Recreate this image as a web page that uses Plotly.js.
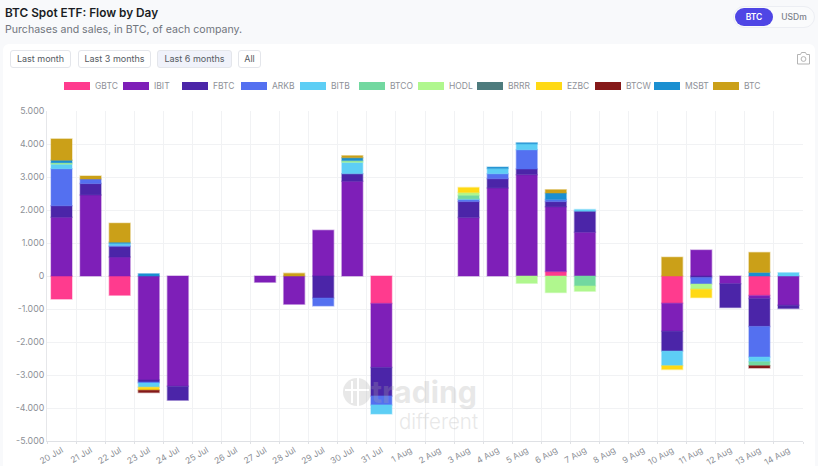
<!DOCTYPE html>
<html><head><meta charset="utf-8">
<script src="https://cdn.plot.ly/plotly-3.0.1.min.js"></script>
<style>
html,body{margin:0;padding:0;width:818px;height:466px;overflow:hidden;background:#f8f9fb;font-family:Inter,sans-serif}
#card{position:absolute;left:3px;top:44px;width:812px;height:430px;background:#fff;border-radius:6px}
#chart{position:absolute;left:0;top:0;width:818px;height:466px}
#t1{position:absolute;left:5px;top:5px;font-size:11.8px;font-weight:600;color:#1a1d24;line-height:16px;white-space:nowrap}
#t2{position:absolute;left:5px;top:22px;font-size:10.6px;color:#71757d;line-height:16px;white-space:nowrap}
#tog{position:absolute;left:733px;top:6px;width:82px;height:22px;border:1px solid #eceef3;border-radius:12px;box-sizing:border-box;background:#fafbfc;font-size:8.5px;font-weight:600}
#tog span{position:absolute;top:1px;height:18px;line-height:18px;text-align:center;border-radius:10px}
.b{position:absolute;top:50px;height:18px;line-height:16px;box-sizing:border-box;border:1px solid #e4e6eb;border-radius:3px;font-size:9px;color:#555a62;text-align:center;background:#fff;white-space:nowrap}
#wm{position:absolute;left:0;top:0;width:818px;height:466px;pointer-events:none;z-index:5}
</style></head><body>
<div id="card"></div>
<div id="chart"></div>
<div id="t1">BTC Spot ETF: Flow by Day</div>
<div id="t2">Purchases and sales, in BTC, of each company.</div>
<div id="tog"><span style="left:1px;width:38px;background:#4f46e5;color:#fff">BTC</span><span style="left:42px;width:36px;color:#7c818a;font-weight:500">USDm</span></div>
<div class="b" style="left:10px;width:61px">Last month</div>
<div class="b" style="left:78px;width:73px">Last 3 months</div>
<div class="b" style="left:157px;width:75px;background:#f0f2fa">Last 6 months</div>
<div class="b" style="left:238px;width:23px">All</div>
<svg id="wm" viewBox="0 0 818 466">
  <g fill="none" stroke="#9b9b9b" stroke-width="1" opacity=".75">
    <path d="M797.5 54.5h3l1-2h4l1 2h3v9.5h-12z"/><circle cx="803.5" cy="59" r="2.4"/>
  </g>
  <g opacity=".26" fill="#a8a8a8">
    <circle cx="357" cy="392" r="14"/>
    <g fill="#fff"><rect x="351" y="381" width="2" height="22"/><rect x="357" y="378" width="2" height="28"/><rect x="345" y="389" width="24" height="2"/></g>
    <text x="371" y="403" font-family="Inter,sans-serif" font-size="30" font-weight="700" textLength="106" lengthAdjust="spacingAndGlyphs">trading</text>
    <text x="399" y="429" font-family="Inter,sans-serif" font-size="21" font-weight="300" textLength="79" lengthAdjust="spacingAndGlyphs">different</text>
  </g>
</svg>
<script>
const n = null;
const days = ["20 Jul","21 Jul","22 Jul","23 Jul","24 Jul","25 Jul","26 Jul","27 Jul","28 Jul","29 Jul","30 Jul","31 Jul","1 Aug","2 Aug","3 Aug","4 Aug","5 Aug","6 Aug","7 Aug","8 Aug","9 Aug","10 Aug","11 Aug","12 Aug","13 Aug","14 Aug"];
const GBTC = [-700,n,-585,n,n,n,n,n,n,n,n,-836,n,n,n,n,n,140,n,n,n,-826,n,n,-594,n];
const IBIT = [1780,2457,574,-3152,-3343,n,n,-190,-856,1390,2870,-1934,n,n,1772,2669,3071,1955,1329,n,n,-846,785,-232,-91,-886];
const FBTC = [350,343,322,-60,-423,n,n,n,n,-670,232,-865,n,n,484,281,172,161,635,n,n,-604,-50,-725,-845,-100];
const ARKB = [1120,140,30,-30,n,n,n,n,n,-236,n,-272,n,n,60,150,584,60,n,n,n,n,-192,n,-927,n];
const BITB = [140,n,60,-130,n,n,n,n,n,n,344,-273,n,n,20,160,181,n,50,n,n,-443,n,n,-141,100];
const BTCO = [n,n,n,n,n,n,n,n,n,n,n,n,n,n,114,n,n,n,-302,n,n,n,n,n,-121,n];
const HODL = [40,n,n,n,n,n,n,n,n,n,50,n,n,n,80,n,-222,-503,-161,n,n,n,-161,n,n,n];
const BRRR = [n,n,n,n,n,n,n,n,n,n,n,n,n,n,n,n,n,n,n,n,n,n,n,n,n,n];
const EZBC = [n,n,n,-90,n,n,n,n,n,n,n,n,n,n,150,n,n,n,n,n,n,-111,-252,n,n,n];
const BTCW = [n,n,n,-70,n,n,n,n,n,n,n,n,n,n,n,n,n,n,n,n,n,n,n,n,-70,n];
const MSBT = [80,n,40,70,n,n,n,n,n,n,90,n,n,n,n,40,30,200,n,n,n,n,n,n,110,n];
const BTC  = [645,90,575,n,n,n,n,n,80,n,60,n,n,n,n,n,n,100,n,n,n,570,n,n,605,n];
const names = ["GBTC","IBIT","FBTC","ARKB","BITB","BTCO","HODL","BRRR","EZBC","BTCW","MSBT","BTC"];
const values = [GBTC,IBIT,FBTC,ARKB,BITB,BTCO,HODL,BRRR,EZBC,BTCW,MSBT,BTC];
const colors = ["#ff3b8e","#7e1fb8","#4b25a8","#5470f0","#5dcef5","#72d8a0","#b0f78e","#4d7b7d","#ffd914","#851919","#1a8fd1","#cba018"];
const yTicks = [-5000,-4000,-3000,-2000,-1000,0,1000,2000,3000,4000,5000];
const yLabels = ["-5.000","-4.000","-3.000","-2.000","-1.000","0","1.000","2.000","3.000","4.000","5.000"];

function rim(hex){
  const v = parseInt(hex.slice(1),16);
  return "rgba("+(v>>16)+","+((v>>8)&255)+","+(v&255)+",0.35)";
}
const traces = names.map((name,i)=>({
  type:"bar", name:name, x:days, y:values[i],
  marker:{color:colors[i], line:{color:rim(colors[i]), width:1.5}},
  hoverinfo:"x+y+name"
}));
const layout = {
  width:818, height:466,
  paper_bgcolor:"rgba(0,0,0,0)", plot_bgcolor:"rgba(0,0,0,0)",
  font:{family:"Inter, sans-serif", color:"#8c8f96", size:9},
  margin:{l:47, r:14.5, t:110.5, b:24.5, pad:0},
  barmode:"relative", bargap:0.28,
  showlegend:true,
  legend:{orientation:"h", xref:"container", yref:"container", x:0.5, xanchor:"center", y:0.8155, yanchor:"middle",
    itemwidth:30, entrywidth:14, entrywidthmode:"pixels", itemsizing:"trace", tracegroupgap:0, font:{size:8.5, color:"#8e9198"}, bgcolor:"rgba(0,0,0,0)",
    itemclick:false, itemdoubleclick:false},
  xaxis:{type:"category", categoryorder:"array", categoryarray:days, tickson:"boundaries", range:[-0.5,25.5], tickangle:-30,
    ticks:"outside", ticklen:2, tickcolor:"#dfe1e5", tickfont:{size:8.6,color:"#8c8f96"},
    showgrid:true, gridcolor:"#f1f2f4", gridwidth:1, showline:true, linecolor:"#dfe1e5", linewidth:1, zeroline:false, fixedrange:true},
  yaxis:{range:[-5000,5000], tickmode:"array", tickvals:yTicks, ticktext:yLabels, ticks:"", tickfont:{size:8.8,color:"#8c8f96"},
    showgrid:true, gridcolor:"#f1f2f4", gridwidth:1, showline:true, linecolor:"#e6e7ea", linewidth:1, zeroline:true, zerolinecolor:"#eeeff1", zerolinewidth:1, fixedrange:true}
};
function swatches(){
  document.querySelectorAll("#chart .legend .legendpoints path").forEach(p=>{
    p.setAttribute("d","M15,4H-11V-4H15Z");
    p.style.strokeWidth="0";
  });
}
const gd = document.getElementById("chart");
Plotly.newPlot(gd, traces, layout, {displayModeBar:false, responsive:false}).then(()=>{
  swatches();
  gd.on("plotly_afterplot", swatches);
});
</script>
</body></html>
